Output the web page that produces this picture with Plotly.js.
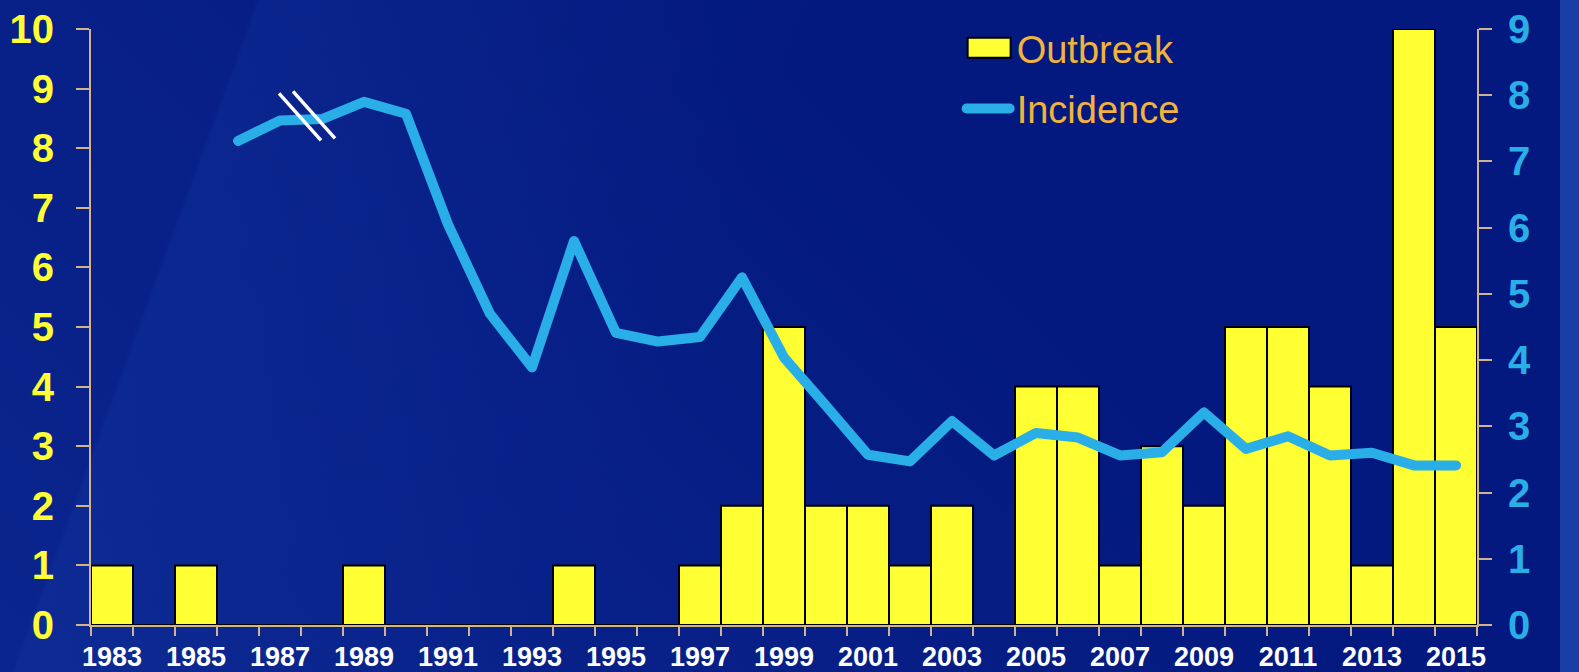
<!DOCTYPE html>
<html>
<head>
<meta charset="utf-8">
<script src="https://cdn.plot.ly/plotly-3.0.1.min.js"></script>
<style>
html, body { margin:0; padding:0; width:1579px; height:672px; overflow:hidden; }
body {
  background-color:#03197f;
  background-image:
    linear-gradient(to right, rgba(0,0,0,0) 1560px, #1b3da6 1560px),
    linear-gradient(110deg, rgba(0,0,0,0) 14%, rgba(30,70,180,0.16) 14.3%, rgba(30,70,180,0.08) 30%, rgba(0,0,0,0) 45%),
    linear-gradient(45deg, rgba(25,60,170,0.35) 0%, rgba(25,60,170,0.18) 35%, rgba(0,0,0,0) 62%);
}
#chart { width:1579px; height:672px; }
.scatterlayer .js-line { stroke-linecap: round; stroke-linejoin: round; }
.legendlines path { stroke-linecap: round; }
</style>
</head>
<body>
<div id="chart"></div>
<script>
// ---- data ----
const years = ['1983','1984','1985','1986','1987','1988','1989','1990','1991','1992','1993',
               '1994','1995','1996','1997','1998','1999','2000','2001','2002','2003','2004',
               '2005','2006','2007','2008','2009','2010','2011','2012','2013','2014','2015'];
const yearLabels = ['1983','','1985','','1987','','1989','','1991','','1993',
                    '','1995','','1997','','1999','','2001','','2003','',
                    '2005','','2007','','2009','','2011','','2013','','2015'];
const outbreaks = [1,0,1,0,0,0,1,0,0,0,0,
                   1,0,0,1,2,5,2,2,1,2,0,
                   4,4,1,3,2,5,5,4,1,10,5];
const incidence = [null,null,null,7.31,7.62,7.64,7.90,7.72,6.05,4.70,3.89,
                   5.80,4.41,4.28,4.35,5.25,4.04,3.31,2.57,2.47,3.08,2.56,
                   2.90,2.83,2.56,2.61,3.21,2.66,2.85,2.56,2.60,2.41,2.41];
const leftTicks = [0,1,2,3,4,5,6,7,8,9,10];
const rightTicks = [0,1,2,3,4,5,6,7,8,9];

const axisColor = '#d2b48c';
const FONT = 'Liberation Sans, Arial, sans-serif';

const traces = [
  {
    type:'bar', name:'Outbreak', x:years, y:outbreaks, yaxis:'y',
    marker:{color:'#ffff33', line:{color:'#000000', width:2}},
    legend:'legend', hoverinfo:'x+y'
  },
  {
    type:'scatter', mode:'lines', name:'Incidence', x:years, y:incidence, yaxis:'y2',
    line:{color:'#29aee8', width:10}, connectgaps:false,
    legend:'legend2', hoverinfo:'x+y'
  }
];

const layout = {
  width:1579, height:672,
  margin:{l:91, r:102, t:29, b:47, pad:0},
  paper_bgcolor:'rgba(0,0,0,0)',
  plot_bgcolor:'rgba(0,0,0,0)',
  bargap:0,
  showlegend:true,
  xaxis:{
    type:'category', categoryorder:'array', categoryarray:years,
    tickvals:years, ticktext:yearLabels, tickson:'boundaries',
    ticks:'outside', ticklen:9, tickwidth:2, tickcolor:axisColor,
    showline:true, linecolor:axisColor, linewidth:2,
    showgrid:false, zeroline:false,
    tickfont:{family:FONT, size:27, color:'#ffffff', weight:'bold'},
    ticklabelstandoff:7, tickangle:0
  },
  yaxis:{
    range:[0,10], tickvals:leftTicks, ticks:'outside', ticklen:13, tickwidth:2, tickcolor:axisColor,
    showline:true, linecolor:axisColor, linewidth:2, showgrid:false, zeroline:false,
    tickfont:{family:FONT, size:40, color:'#ffff33', weight:'bold'},
    ticklabelstandoff:14
  },
  yaxis2:{
    range:[0,9], tickvals:rightTicks, overlaying:'y', side:'right',
    ticks:'outside', ticklen:13, tickwidth:2, tickcolor:axisColor,
    showline:true, linecolor:axisColor, linewidth:2, showgrid:false, zeroline:false,
    tickfont:{family:FONT, size:40, color:'#29aee8', weight:'bold'},
    ticklabelstandoff:8
  },
  legend:{
    x:0.626, xanchor:'left', y:0.968, yanchor:'middle', itemwidth:48,
    bgcolor:'rgba(0,0,0,0)', borderwidth:0,
    font:{family:FONT, size:38, color:'#f2b33d'}
  },
  legend2:{
    x:0.626, xanchor:'left', y:0.866, yanchor:'middle', itemwidth:48,
    bgcolor:'rgba(0,0,0,0)', borderwidth:0,
    font:{family:FONT, size:38, color:'#f2b33d'}
  },
  shapes:[
    {type:'line', xref:'x', yref:'y2', xsizemode:'pixel', ysizemode:'pixel',
     xanchor:4.5, yanchor:7.62, x0:-22, y0:27, x1:20, y1:-20,
     line:{color:'#ffffff', width:3.5}, layer:'above'},
    {type:'line', xref:'x', yref:'y2', xsizemode:'pixel', ysizemode:'pixel',
     xanchor:4.5, yanchor:7.62, x0:-8, y0:29, x1:34, y1:-18,
     line:{color:'#ffffff', width:3.5}, layer:'above'}
  ]
};

Plotly.newPlot('chart', traces, layout, {displayModeBar:false, staticPlot:true}).then(function(gd){
  function tweak(){
    gd.querySelectorAll('g.legend .legendpoints path').forEach(function(p){
      p.setAttribute('d','M-20,-10H23V10H-20Z');
      p.style.strokeWidth = '2px';
    });
    gd.querySelectorAll('g.legend2 .legendlines path').forEach(function(p){
      p.setAttribute('d','M8,0H51');
    });
  }
  tweak();
  gd.on('plotly_afterplot', tweak);
});
</script>
</body>
</html>
